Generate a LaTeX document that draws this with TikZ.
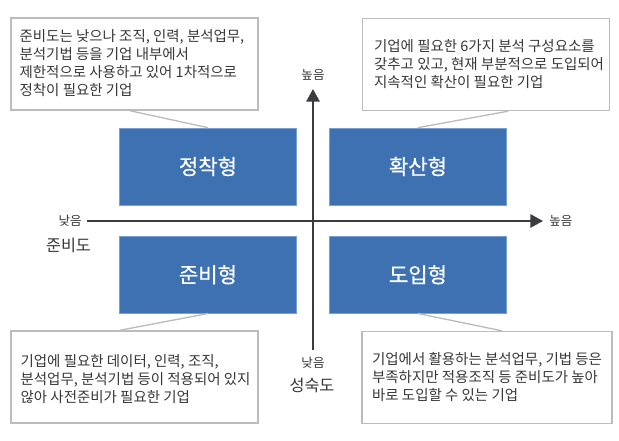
\documentclass[tikz,border=0pt]{standalone}
\usepackage{fontspec}
\setmainfont{Noto Sans CJK KR}
\newfontfamily\quadfont[FakeBold=0.6]{Noto Sans CJK KR}
\usetikzlibrary{arrows.meta,calc}
\definecolor{qblue}{RGB}{62,113,178}
\definecolor{qedge}{RGB}{120,160,210}
\definecolor{axisgray}{RGB}{60,60,64}
\definecolor{boxgray}{RGB}{188,188,188}
\definecolor{txtgray}{RGB}{55,55,55}
\begin{document}
\begin{tikzpicture}[x=0.75pt,y=-0.75pt,
  quad/.style={fill=qblue,draw=qedge,line width=0.5pt,minimum width=133pt,minimum height=57.75pt,
    text=white,font=\quadfont\fontsize{15.8pt}{18pt}\selectfont,inner sep=0pt},
  callout/.style={draw=boxgray,line width=1pt,minimum width=185.25pt,minimum height=69pt,inner sep=0pt},
  callouttext/.style={anchor=west,align=left,inner sep=0pt,text=txtgray,font=\fontsize{10.85pt}{13.5pt}\selectfont},
  leader/.style={draw=boxgray,line width=1pt},
  axis/.style={draw=axisgray,line width=1.5pt,-{Triangle[length=9.5pt,width=10pt]}},
  smalllab/.style={text=txtgray,inner sep=0pt,font=\fontsize{9.4pt}{11pt}\selectfont},
  biglab/.style={text=txtgray,inner sep=0pt,font=\fontsize{12.2pt}{14pt}\selectfont}]
\useasboundingbox (0,0) rectangle (619,441);

% axes
\coordinate (xs) at (87,221);
\coordinate (xe) at (543,221);
\coordinate (ys) at (313,350);
\coordinate (ye) at (313,89);
\draw[axis] (xs) -- (xe);
\draw[axis] (ys) -- (ye);
\node[smalllab,anchor=east] (xlow) at (82,221) {낮음};
\node[smalllab,anchor=west] (xhigh) at (549,221) {높음};
\node[biglab] (xname) at (68.5,245) {준비도};
\node[smalllab] (yhigh) at (313,75) {높음};
\node[smalllab] (ylow) at (313,363) {낮음};
\node[biglab] (yname) at (312,385) {성숙도};

% quadrants
\node[quad] (tl) at (208,166.5) {정착형};
\node[quad] (tr) at (418,166.5) {확산형};
\node[quad] (bl) at (208,274.7) {준비형};
\node[quad] (br) at (418,274.7) {도입형};

% callouts
\node[callout] (ctl) at (134.5,64) {};
\node[callout] (ctr) at (486,64.5) {};
\node[callout] (cbl) at (134.5,377) {};
\node[callout,minimum width=187.5pt] (cbr) at (487,377.5) {};

\node[callouttext] (ttl) at ($(ctl.west)+(9,-1)$) {준비도는 낮으나 조직, 인력, 분석업무,\\분석기법 등을 기업 내부에서\\제한적으로 사용하고 있어 1차적으로\\정착이 필요한 기업};
\node[callouttext] (ttr) at ($(ctr.west)+(12,0)$) {기업에 필요한 6가지 분석 구성요소를\\갖추고 있고, 현재 부분적으로 도입되어\\지속적인 확산이 필요한 기업};
\node[callouttext] (tbl) at ($(cbl.west)+(10,2)$) {기업에 필요한 데이터, 인력, 조직,\\분석업무, 분석기법 등이 적용되어 있지\\않아 사전준비가 필요한 기업};
\node[callouttext] (tbr) at ($(cbr.west)+(10.5,0)$) {기업에서 활용하는 분석업무, 기법 등은\\부족하지만 적용조직 등 준비도가 높아\\바로 도입할 수 있는 기업};

% leaders
\draw[leader] ($(ctl.south west)!0.48!(ctl.south east)$) -- (tl.north);
\draw[leader] ($(ctr.south west)!0.59!(ctr.south east)$) -- (tr.north);
\draw[leader] (bl.south) -- ($(cbl.north west)!0.44!(cbl.north east)$);
\draw[leader] (br.south) -- ($(cbr.north west)!0.56!(cbr.north east)$);
\end{tikzpicture}
\end{document}
